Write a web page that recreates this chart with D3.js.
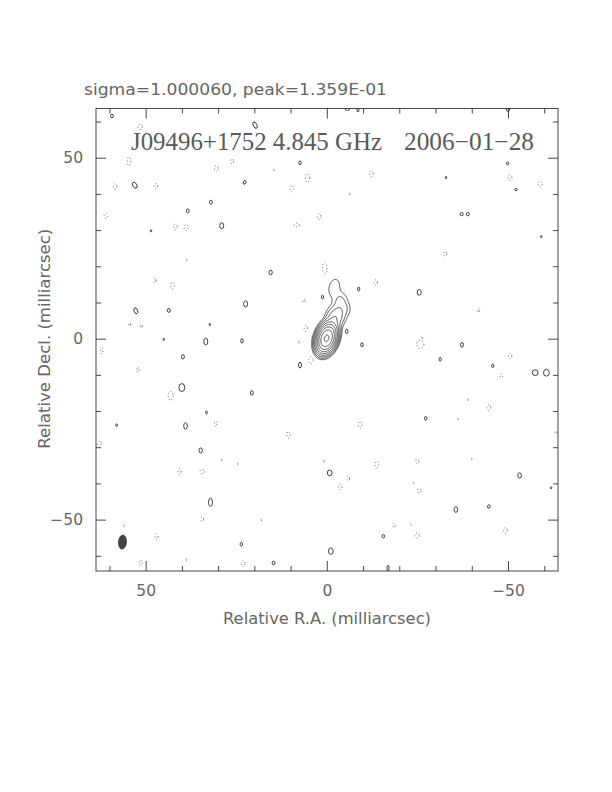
<!DOCTYPE html>
<html><head><meta charset="utf-8">
<script src="https://cdn.jsdelivr.net/npm/d3@7"></script>
<style>body{margin:0;background:#fff}</style>
</head><body>
<svg id="c" width="612" height="792" xmlns="http://www.w3.org/2000/svg"></svg>
<script>
// ---------------- data ----------------
const sigmaText = "sigma=1.000060, peak=1.359E-01";
const sourceName = "J09496+1752 4.845 GHz";
const obsDate = "2006\u221201\u221228";
const xLabel = "Relative R.A. (milliarcsec)";
const yLabel = "Relative Decl. (milliarcsec)";
const majorTicks = [50, 0, -50];
const minorTicks = [60, 40, 30, 20, 10, -10, -20, -30, -40, -60];
const levelBase = 0.00045;        // lowest contour (Jy/beam)
const levelCount = 9;             // doubling contours
// source model components (mas, Jy, FWHM mas, PA deg)
const compX    = [0.1, -0.6, -2.4, -3.8, -2.0, -5.0];
const compY    = [0.0, 1.8, 6.0, 10.2, 14.2, 8.0];
const compFlux = [0.126, 0.010, 0.0032, 0.0011, 0.00085, 0.0006];
const compMaj  = [4.2, 4.0, 4.0, 4.2, 4.6, 3.2];
const compMin  = [2.7, 2.8, 3.4, 3.2, 2.8, 3.0];
const compPA   = [-18, -18, -10, 0, -15, 0];
// positive noise islands (mas)
const posX = [59.3,53.0,22.7,32.0,38.4,48.5,29.0,52.7,43.6,22.4,32.3,33.4,45.0,23.4,39.7,40.0,20.7,33.2,39.0,58.0,34.8,32.1,23.6,19.8,7.4,15.5,-8.8,1.2,-5.7,-8.6,-50.0,-49.9,-52.2,-32.9,-37.2,-38.9,-59.2,-25.5,7.4,-9.7,-0.8,-15.6,-1.1,14.7,-16.9,-37.3,-31.3,-45.8,-57.5,-60.6,-27.3,-53.2,-61.9,-35.6,-44.7,-5.5];
const posY = [61.5,42.4,43.2,37.7,35.3,29.8,31.2,7.7,7.8,9.6,3.9,-0.8,-0.2,-0.6,-5.0,-13.5,-15.0,-20.4,-24.1,-23.9,-30.9,-45.2,-56.8,59.0,48.6,18.3,13.7,11.5,63.8,63.2,63.6,48.4,41.2,44.5,34.4,34.4,28.2,12.8,-7.3,-1.7,-37.1,-54.6,-58.7,-62.0,-63.4,-1.7,-5.7,-7.5,-9.4,-9.4,-22.0,-37.8,-41.2,-47.2,-46.4,2.0];
const posW = [0.8,1.1,0.7,0.8,0.8,0.4,1.1,1.0,0.8,1.1,0.4,1.1,0.4,0.7,0.8,1.6,0.8,0.5,1.0,0.5,0.9,1.1,0.7,1.0,0.7,0.9,0.6,0.6,1.5,0.6,1.0,0.7,0.6,0.4,0.9,0.9,0.4,1.1,0.8,0.7,1.3,0.7,1.3,0.8,0.6,0.8,0.6,0.6,1.6,1.6,0.7,1.0,0.4,1.0,0.7,0.7];
const posH = [1.0,1.8,1.1,1.1,1.1,0.6,1.7,1.7,1.1,1.7,0.6,1.9,0.6,1.2,1.2,2.2,1.2,0.8,1.8,0.7,1.4,2.3,1.0,1.9,1.0,1.3,1.1,1.0,1.5,1.0,1.6,0.8,0.7,0.7,0.9,0.9,0.6,1.6,1.6,1.1,1.6,1.0,1.8,1.0,1.6,1.3,1.0,1.0,1.6,1.9,1.0,1.5,0.6,1.6,1.0,1.2];
const posA = [0,30,-20,0,0,0,0,20,0,0,0,0,0,0,0,0,0,0,0,0,0,0,0,25,0,0,0,0,0,0,0,0,0,0,0,0,0,0,0,0,0,0,0,0,0,0,0,0,0,0,0,0,0,0,0,0];
// negative noise islands (mas)
const negX = [51.5,54.6,30.5,26.2,58.4,47.2,61.0,41.8,38.8,47.5,42.6,54.4,51.2,5.3,9.7,-12.3,2.1,8.3,0.6,-13.5,6.3,5.8,-50.6,-58.9,-32.7,-41.9,62.1,52.1,43.1,30.7,62.7,40.6,34.4,34.4,56.1,47.0,51.4,23.1,4.4,-9.2,10.6,-13.8,-5.9,-3.7,-18.6,-25.8,-50.6,-48.1,-44.7,-63.3,-24.9,-25.5,-23.9,-49.3,-24.9,-23.2,-38.9,-36.1,-39.9,0.9,18.2,-6.2,14.7,38.8,38.9,-26.2,7.8,29.1,24.7];
const negY = [58.5,49.0,47.0,49.0,42.0,42.2,33.9,30.9,30.7,16.1,14.7,3.9,3.4,44.4,41.5,45.6,33.7,31.4,19.5,15.5,10.5,2.9,44.5,42.7,23.4,7.8,-3.4,-8.6,-15.8,-23.6,-29.1,-36.7,-36.7,-49.9,-51.8,-54.8,-61.9,-62.2,-6.0,-23.8,-26.6,-34.8,-38.6,-41.0,-51.6,-1.6,-4.8,-10.3,-19.0,-25.9,-33.9,-42.0,-39.9,-53.0,-54.4,-51.4,-16.9,-22.2,-33.2,-33.9,-50.1,39.9,46.6,21.8,-61.1,0.2,-1.0,-33.5,-34.6];
const negW = [1.2,1.0,1.0,0.9,1.0,0.9,0.9,1.0,1.2,0.8,1.0,0.6,0.6,1.2,0.9,1.0,1.0,1.4,1.2,1.0,0.6,0.9,1.0,1.2,0.8,0.6,0.6,0.7,1.4,0.7,1.0,0.8,1.2,0.8,0.5,0.8,0.8,1.0,1.2,1.0,0.9,1.0,0.8,1.0,0.9,2.0,0.9,0.8,1.0,0.6,1.0,1.0,0.4,1.0,1.2,0.4,0.4,0.4,0.4,0.4,0.4,0.4,0.4,0.4,0.4,0.4,0.4,0.4,0.4];
const negH = [1.5,2.4,1.6,1.3,1.6,1.5,1.4,1.6,1.6,1.2,1.8,0.8,0.8,2.4,1.8,1.6,1.6,1.0,3.2,1.5,1.0,1.6,1.6,1.6,1.3,1.0,1.6,1.4,2.4,1.4,1.6,1.6,1.2,1.2,0.6,1.6,1.4,1.6,2.0,1.8,1.8,1.8,1.2,1.4,1.0,2.2,1.6,1.0,1.6,0.8,1.2,1.2,0.6,1.6,1.4,0.6,0.5,0.5,0.5,0.5,0.5,0.5,0.5,0.5,0.5,0.5,0.5,0.5,0.5];
// restoring beam
const beamX = 56.4, beamY = -56.2, beamMaj = 3.9, beamMin = 2.2, beamPA = -5;

// ---------------- layout ----------------
const svg = d3.select("#c");
const L = 96, R = 558, T = 108.5, B = 571;
const x = d3.scaleLinear().domain([63.7, -63.8]).range([L, R]);
const y = d3.scaleLinear().domain([-64.2, 63.6]).range([B, T]);
const ink = "#333", txt = "#666";

svg.append("defs").append("clipPath").attr("id", "pc")
  .append("rect").attr("x", L).attr("y", T).attr("width", R - L).attr("height", B - T);
const plot = svg.append("g").attr("clip-path", "url(#pc)");

// ---- source contours via d3.contours on a model grid ----
const step = 0.12, gx0 = -16, gx1 = 14, gy0 = -12, gy1 = 24;
const nx = Math.round((gx1 - gx0) / step), ny = Math.round((gy1 - gy0) / step);
const vals = new Float64Array(nx * ny);
const k = 4 * Math.LN2;
for (let j = 0; j < ny; j++) {
  const my = gy1 - (j + 0.5) * step;
  for (let i = 0; i < nx; i++) {
    const mx = gx0 + (i + 0.5) * step;
    let s = 0;
    for (let c = 0; c < compX.length; c++) {
      const pa = compPA[c] * Math.PI / 180;
      const dx = mx - compX[c], dy = my - compY[c];
      const u = dx * Math.sin(pa) + dy * Math.cos(pa);
      const v = dx * Math.cos(pa) - dy * Math.sin(pa);
      s += compFlux[c] * Math.exp(-k * ((u / compMaj[c]) ** 2 + (v / compMin[c]) ** 2));
    }
    vals[i + j * nx] = s;
  }
}
const levels = d3.range(levelCount).map(n => levelBase * Math.pow(2, n));
const contours = d3.contours().size([nx, ny]).thresholds(levels)(vals);
const proj = d3.geoTransform({
  point: function (gx, gy) { this.stream.point(x(gx0 + gx * step), y(gy1 - gy * step)); }
});
const gpath = d3.geoPath(proj);
plot.append("g").selectAll("path").data(contours).join("path")
  .attr("d", gpath).attr("fill", "none").attr("stroke", "#222").attr("stroke-width", 0.8);

// ---- noise islands ----
const sx = w => Math.abs(x(w) - x(0)), sy = h => Math.abs(y(h) - y(0));
plot.append("g").selectAll("ellipse").data(d3.range(posX.length)).join("ellipse")
  .attr("cx", i => x(posX[i])).attr("cy", i => y(posY[i]))
  .attr("rx", i => sx(posW[i] / 2)).attr("ry", i => sy(posH[i] / 2))
  .attr("transform", i => `rotate(${-posA[i]},${x(posX[i])},${y(posY[i])})`)
  .attr("fill", "none").attr("stroke", "#222").attr("stroke-width", 0.85);
plot.append("g").selectAll("ellipse").data(d3.range(negX.length)).join("ellipse")
  .attr("cx", i => x(negX[i])).attr("cy", i => y(negY[i]))
  .attr("rx", i => sx(negW[i] / 2)).attr("ry", i => sy(negH[i] / 2))
  .attr("fill", "none").attr("stroke", "#555").attr("stroke-width", 0.9)
  .attr("stroke-dasharray", "1 2.2");

// ---- beam ----
plot.append("ellipse")
  .attr("cx", x(beamX)).attr("cy", y(beamY))
  .attr("rx", sx(beamMin / 2)).attr("ry", sy(beamMaj / 2))
  .attr("transform", `rotate(${-beamPA},${x(beamX)},${y(beamY)})`)
  .attr("fill", "#444").attr("stroke", "#222").attr("stroke-width", 0.6);

// ---------------- axes ----------------
function styleAxis(g) {
  g.select(".domain").remove();
  g.selectAll(".tick line").attr("stroke", ink).attr("stroke-width", 0.9);
  g.selectAll(".tick text").attr("fill", txt).attr("font-family", "DejaVu Sans")
    .attr("font-size", 15.5);
}
const fmt = d3.format("d");
svg.append("g").attr("transform", `translate(0,${B})`)
  .call(d3.axisBottom(x).tickValues(majorTicks).tickSize(-10).tickPadding(14).tickFormat(fmt)).call(styleAxis);
svg.append("g").attr("transform", `translate(0,${B})`)
  .call(d3.axisBottom(x).tickValues(minorTicks).tickSize(-5).tickFormat("")).call(styleAxis);
svg.append("g").attr("transform", `translate(0,${T})`)
  .call(d3.axisTop(x).tickValues(majorTicks).tickSize(-10).tickFormat("")).call(styleAxis);
svg.append("g").attr("transform", `translate(0,${T})`)
  .call(d3.axisTop(x).tickValues(minorTicks).tickSize(-5).tickFormat("")).call(styleAxis);
svg.append("g").attr("transform", `translate(${L},0)`)
  .call(d3.axisLeft(y).tickValues(majorTicks).tickSize(-10).tickPadding(13).tickFormat(fmt)).call(styleAxis);
svg.append("g").attr("transform", `translate(${L},0)`)
  .call(d3.axisLeft(y).tickValues(minorTicks).tickSize(-5).tickFormat("")).call(styleAxis);
svg.append("g").attr("transform", `translate(${R},0)`)
  .call(d3.axisRight(y).tickValues(majorTicks).tickSize(-10).tickFormat("")).call(styleAxis);
svg.append("g").attr("transform", `translate(${R},0)`)
  .call(d3.axisRight(y).tickValues(minorTicks).tickSize(-5).tickFormat("")).call(styleAxis);

svg.append("rect").attr("x", L).attr("y", T).attr("width", R - L).attr("height", B - T)
  .attr("fill", "none").attr("stroke", ink).attr("stroke-width", 0.9);

// ---------------- text ----------------
svg.append("text").attr("x", 84).attr("y", 95).text(sigmaText)
  .attr("font-family", "DejaVu Sans").attr("font-size", 16).attr("fill", txt)
  .attr("textLength", 303).attr("lengthAdjust", "spacingAndGlyphs");
svg.append("text").attr("x", 131).attr("y", 150).text(sourceName)
  .attr("font-family", "Liberation Serif").attr("font-size", 24.5).attr("fill", "#5a5a5a")
  .attr("textLength", 251).attr("lengthAdjust", "spacingAndGlyphs");
svg.append("text").attr("x", 404).attr("y", 150).text(obsDate)
  .attr("font-family", "Liberation Serif").attr("font-size", 24.5).attr("fill", "#5a5a5a")
  .attr("textLength", 130).attr("lengthAdjust", "spacingAndGlyphs");
svg.append("text").attr("x", (L + R) / 2).attr("y", 624).attr("text-anchor", "middle").text(xLabel)
  .attr("font-family", "DejaVu Sans").attr("font-size", 15.5).attr("fill", txt)
  .attr("textLength", 208).attr("lengthAdjust", "spacingAndGlyphs");
svg.append("text").attr("transform", `translate(50,${y(0)}) rotate(-90)`).attr("text-anchor", "middle").text(yLabel)
  .attr("font-family", "DejaVu Sans").attr("font-size", 15.5).attr("fill", txt)
  .attr("textLength", 220).attr("lengthAdjust", "spacingAndGlyphs");
</script>
</body></html>
